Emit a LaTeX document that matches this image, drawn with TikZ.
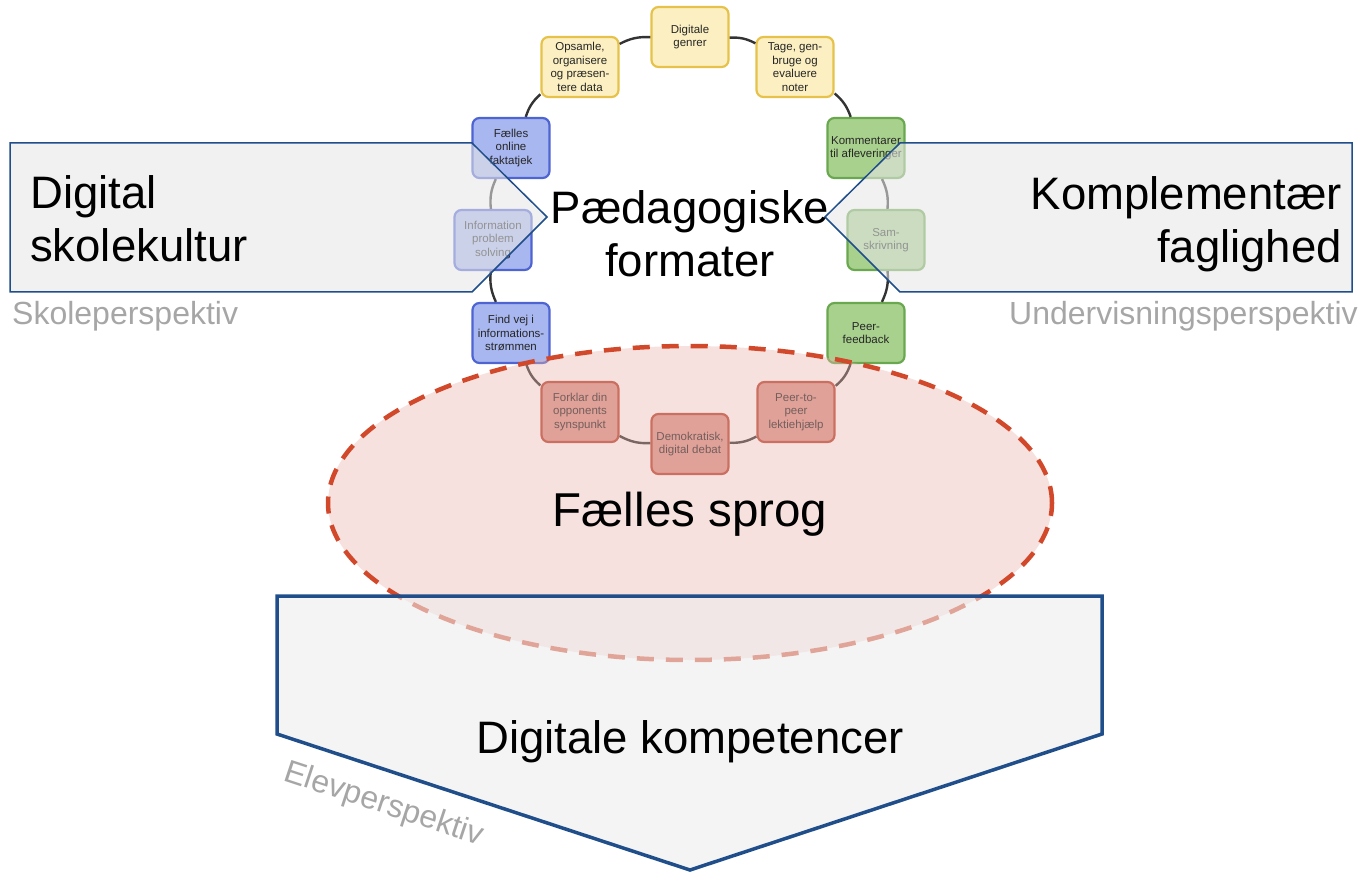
\documentclass[tikz,border=0pt]{standalone}
\usepackage{fontspec}
\setmainfont{Liberation Sans}
\usetikzlibrary{shapes.geometric}
\definecolor{yelF}{HTML}{FCF0C2}
\definecolor{yelD}{HTML}{E6C24A}
\definecolor{bluF}{HTML}{A8B7EF}
\definecolor{bluD}{HTML}{4D64D2}
\definecolor{grnF}{HTML}{A9D18E}
\definecolor{grnD}{HTML}{6AA84F}
\definecolor{redF}{HTML}{DC958D}
\definecolor{redD}{HTML}{B8432F}
\definecolor{ringC}{HTML}{333333}
\definecolor{ellF}{HTML}{E8B4AC}
\definecolor{ellD}{HTML}{D1482B}
\definecolor{panF}{HTML}{E6E6E6}
\definecolor{pentF}{HTML}{ECECEC}
\definecolor{panD}{HTML}{1F4E8A}
\definecolor{persC}{HTML}{A6A6A6}
\begin{document}
\begin{tikzpicture}[x=1pt,y=-1pt,
  cyc/.style={rectangle, rounded corners=7pt, line width=2.2pt, minimum width=77pt, minimum height=60pt, inner sep=0.5pt, align=center, font=\fontsize{11.5}{13.5}\selectfont, text=black!85},
  yel/.style={cyc, fill=yelF, draw=yelD},
  blu/.style={cyc, fill=bluF, draw=bluD},
  grn/.style={cyc, fill=grnF, draw=grnD},
  redb/.style={cyc, fill=redF, draw=redD},
  ring/.style={draw=ringC, line width=2.4pt},
  big/.style={font=\fontsize{45.5}{53}\selectfont, inner sep=0pt},
  persp/.style={text=persC, font=\fontsize{32}{38}\selectfont, inner sep=0pt},
  panel/.style={fill=panF, fill opacity=0.57, draw=panD, line width=1.5pt, line join=miter},
  pent/.style={fill=pentF, fill opacity=0.57, draw=panD, line width=3.5pt, line join=miter}
]
\useasboundingbox (0,0) rectangle (1362,874);
% ring of formats
\node[yel] (dg) at (690,37) {Digitale\\genrer};
\node[yel] (op) at (580,67) {Opsamle,\\organisere\\og præsen-\\tere data};
\node[yel] (tg) at (795,67) {Tage, gen-\\bruge og\\evaluere\\noter};
\node[blu] (ff) at (511,148) {Fælles\\online\\faktatjek};
\node[grn] (km) at (866,148) {Kommentarer\\til afleveringer};
\node[blu] (ip) at (493,240) {Information\\problem\\solving};
\node[grn] (sk) at (886,240) {Sam-\\skrivning};
\node[blu] (fv) at (511,333) {Find vej i\\informations-\\strømmen};
\node[grn] (pf) at (866,333) {Peer-\\feedback};
\node[redb] (fo) at (580,412) {Forklar din\\opponents\\synspunkt};
\node[redb] (dd) at (690,444) {Demokratisk,\\digital debat};
\node[redb] (pp) at (796,412) {Peer-to-\\peer\\lektiehjælp};
\foreach \a/\b in {dg/tg, tg/km, km/sk, sk/pf, pf/pp, pp/dd, dd/fo, fo/fv, fv/ip, ip/ff, ff/op, op/dg}
  \draw[ring] (\a) to[bend left=15] (\b);
% shared language ellipse
\node[ellipse, minimum width=724pt, minimum height=314pt, fill=ellF, fill opacity=0.4, draw=ellD, line width=4.5pt, dash pattern=on 17pt off 12pt, inner sep=0pt] (ell) at (690,503) {};
% side panels
\draw[panel] (10,143) -- (472,143) -- (547,217) -- (472,292) -- (10,292) -- cycle;
\draw[panel] (1352,143) -- (900,143) -- (825,217) -- (900,292) -- (1352,292) -- cycle;
% bottom pentagon
\draw[pent] (277,596) -- (1102,596) -- (1102,734) -- (690,870) -- (277,734) -- cycle;
% texts
\node[big, align=left, anchor=west] (tl) at (30,219) {Digital\\skolekultur};
\node[big, align=right, anchor=east] (tr) at (1342,224) {Komplementær\\faglighed};
\node[big, align=center] (tc) at (690,234) {Pædagogiske\\formater};
\node[big, anchor=base, font=\fontsize{47.5}{55}\selectfont] (fs) at (690,526) {Fælles sprog};
\node[big, anchor=base] (dk) at (690,753) {Digitale kompetencer};
\node[persp, anchor=base west] (sp) at (12,325) {Skoleperspektiv};
\node[persp, anchor=base east] (up) at (1358,325) {Undervisningsperspektiv};
\node[persp, anchor=base west, rotate=-18.3] (ep) at (282,780) {Elevperspektiv};
\end{tikzpicture}
\end{document}
